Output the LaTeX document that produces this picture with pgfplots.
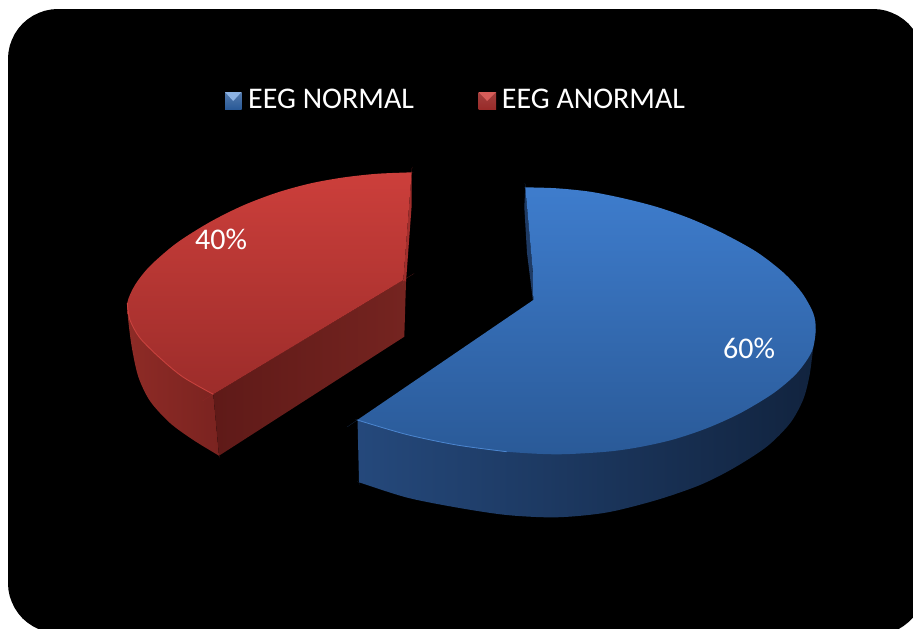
\documentclass[border=0pt]{standalone}
\usepackage{fontspec}
\setmainfont{Carlito}
\usepackage{pgfplots}
\pgfplotsset{compat=1.18}
\definecolor{bluetop}{HTML}{3F7ECF}
\definecolor{bluebot}{HTML}{2A5A98}
\definecolor{blueL}{HTML}{25497C}
\definecolor{blueM}{HTML}{1B3860}
\definecolor{blueR}{HTML}{11233E}
\definecolor{bluerim}{HTML}{4C86D0}
\definecolor{redtop}{HTML}{CF403C}
\definecolor{redbot}{HTML}{992B29}
\definecolor{redL}{HTML}{8E2B26}
\definecolor{redR}{HTML}{7A2320}
\definecolor{cutL}{HTML}{5F1A18}
\definecolor{cutR}{HTML}{752420}
\definecolor{redrim}{HTML}{C9423E}
\begin{document}
\begin{tikzpicture}
\begin{axis}[
  scale only axis, width=913pt, height=629pt,
  xmin=0, xmax=913, ymin=0, ymax=629, y dir=reverse,
  hide axis, clip=true,
]
% white page and black rounded panel
\addplot[fill=white, draw=none] coordinates {(0,0)(913,0)(913,629)(0,629)};
\addplot[fill=black, draw=none] coordinates {
 (8,59)(8.4,52.5)(9.7,46)(11.8,40)(14.7,34)(18.3,28.6)(22.6,23.6)(27.6,19.3)(33,15.7)(39,12.8)(45,10.7)(51.5,9.4)(58,9)
 (873,9)(879.5,9.4)(886,10.7)(892,12.8)(898,15.7)(903.4,19.3)(908.4,23.6)(913,29)
 (913,617.5)(909,621.7)(903.5,626)(898.7,629)
 (38.4,629)(33,626.3)(27.6,622.7)(22.6,618.4)(18.3,613.4)(14.7,608)(11.8,602)(9.7,596)(8.4,589.5)(8,583)};
% red slice: outer side
\addplot[smooth, left color=redL, right color=redR, draw=none] coordinates {
 (127.3,303)(130,320)(140,338)(160,358)(183,377)(212.4,393.8)(213.3,394.3)(213.3,394.3)(213.4,395.3)(218.9,454.7)(219,455.7)(219,455.7)(218.1,455.2)(193.3,440)(170,423)(150,401)(138.3,376.7)(131.7,346.7)(128,318)(127.3,303)};
% red slice: cut face
\addplot[left color=cutL, right color=cutR, draw=none] coordinates {
 (213.3,394.3)(403.3,280)(406,282)(404.3,336.7)(219,455.7)};
% red slice: back sliver
\addplot[fill=redbot!85!redtop, draw=none] coordinates {
 (411.7,172.3)(411.7,205)(406,282)(403.3,280)};
% red slice: top face
\addplot[smooth, top color=redtop, bottom color=redbot, draw=none] coordinates {
 (411.7,172.3)(410.7,172.35)(376.7,173.8)(343,177.5)(310,183.5)(276.7,192.7)(243,205.5)(210,222)(176.7,243)(150,266)(135,285)(127.3,303)(130,320)(140,338)(160,358)(183,377)(212.4,393.8)(213.3,394.3)(213.3,394.3)(214.2,393.76)(402.4,280.54)(403.3,280)(403.3,280)(403.4,279)(411.6,173.3)(411.7,172.3)};
\addplot[smooth, redrim, line width=0.9pt] coordinates {
 (127.3,303)(130,320)(140,338)(160,358)(183,377)(213.3,394.3)};
% blue slice: outer side
\addplot[smooth, left color=blueL, middle color=blueM, right color=blueR, draw=none] coordinates {
 (365,418)(406.7,430)(456.7,440)(506.7,446)(556.7,449)(606.7,446)(673.3,434)(740,408)(796,368)(814,331)(815.7,330)(815.7,330)(815.6,331)
 (813,350)(809.3,376.7)(803,400)(790,423.3)(766.7,446.7)(733.3,468.3)(700,485)(656.7,500)(606.7,512.5)(556.7,517.3)(506.7,515)(456.7,507.5)(406.7,497.5)(360,482.6)(359,482.3)(359,482.3)(359,481.3)(357.6,423)(357.6,421.5)};
% blue slice: back sliver
\addplot[fill=blueL!80!black, draw=none] coordinates {
 (525.3,187.3)(524.3,207)(527,253)(533,301)(533.3,300)(532.7,270)};
% blue slice: top face
\addplot[smooth, top color=bluetop, bottom color=bluebot, draw=none] coordinates {
 (525.3,187.3)(526.3,187.33)(556.7,188.3)(590,191.7)(623.3,198.3)(656.7,206.9)(690,218.5)(723.3,233.5)(756.7,252)(783.3,272.5)(801.7,292.5)(813.3,313.3)(815.7,330)(811.7,351.7)(796.7,373.3)(773.3,393.3)(740,413.3)(706.7,428.3)(673.3,439.5)(640,447)(606.7,451.7)(556.7,454.3)(506.7,451.7)(456.7,445)(406.7,434.5)(358.3,420.3)(357.3,420)(357.3,420)(358.1,419.45)(532.5,300.55)(533.3,300)(533.3,300)(533.3,299)(532.75,271)(532.7,270)(532.7,270)(532.6,269)(525.4,188.3)(525.3,187.3)};
\addplot[smooth, bluerim, line width=0.8pt] coordinates {
 (357.3,420)(406.7,434.5)(456.7,445)(506.7,451.7)};
% legend keys
\addplot[top color=bluebot!80!white, bottom color=bluebot, draw=none] coordinates {(225,92)(241.5,92)(241.5,109)(225,109)};
\addplot[fill=bluetop!60!white, draw=none] coordinates {(225,92)(241.5,92)(233.2,101)};
\addplot[top color=redbot!90!white, bottom color=redbot, draw=none] coordinates {(478.5,92)(496,92)(496,109)(478.5,109)};
\addplot[fill=redtop!85!white, draw=none] coordinates {(478.5,92)(496,92)(487.2,101)};
% texts
\node[anchor=base west, inner sep=0, text=white, font=\fontsize{30}{32}\selectfont] at (axis cs:248,108) {EEG NORMAL};
\node[anchor=base west, inner sep=0, text=white, font=\fontsize{30}{32}\selectfont] at (axis cs:501.7,108) {EEG ANORMAL};
\node[anchor=base west, inner sep=0, text=white, font=\fontsize{30}{32}\selectfont] at (axis cs:723,358) {60\%};
\node[anchor=base west, inner sep=0, text=white, font=\fontsize{30}{32}\selectfont] at (axis cs:195,249) {40\%};
\end{axis}
\end{tikzpicture}
\end{document}
